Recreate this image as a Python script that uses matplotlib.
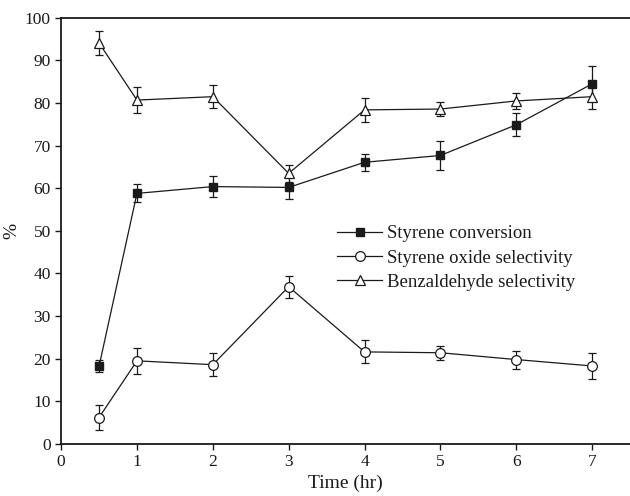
"""Styrene oxidation: conversion and product selectivity versus time."""

import matplotlib
matplotlib.use("Agg")
import matplotlib.pyplot as plt
from matplotlib.lines import Line2D

time_hr = [0.5, 1, 2, 3, 4, 5, 6, 7]

conversion = [18.2, 58.8, 60.4, 60.2, 66.1, 67.7, 74.9, 84.5]
conversion_err = [1.4, 2.1, 2.4, 2.7, 2.0, 3.4, 2.7, 4.1]

oxide_sel = [6.2, 19.5, 18.6, 36.9, 21.6, 21.4, 19.8, 18.3]
oxide_err = [2.9, 3.1, 2.7, 2.6, 2.7, 1.6, 2.1, 3.1]

benzaldehyde_sel = [94.1, 80.7, 81.5, 63.5, 78.4, 78.6, 80.5, 81.5]
benzaldehyde_err = [2.9, 3.1, 2.7, 2.0, 2.8, 1.6, 1.9, 2.8]

labels = ["Styrene conversion", "Styrene oxide selectivity",
          "Benzaldehyde selectivity"]

x_ticks = [0, 1, 2, 3, 4, 5, 6, 7]
y_ticks = [0, 10, 20, 30, 40, 50, 60, 70, 80, 90, 100]

plt.rcParams["font.family"] = ["Liberation Serif", "DejaVu Serif"]
plt.rcParams["font.size"] = 12

ink = "#1a1a1a"

fig = plt.figure(figsize=(6.3, 4.96), dpi=100)
ax = fig.add_axes([0.097, 0.105, 0.903, 0.859])

common = dict(color=ink, lw=0.9, capsize=2.6, elinewidth=0.9, capthick=0.9)
styles = [
    dict(marker="s", ms=5.5, mfc=ink, mec=ink),
    dict(marker="o", ms=7, mfc="white", mec=ink, mew=0.9),
    dict(marker="^", ms=7.5, mfc="white", mec=ink, mew=0.9),
]

series = [(conversion, conversion_err), (oxide_sel, oxide_err),
          (benzaldehyde_sel, benzaldehyde_err)]
for (vals, errs), style in zip(series, styles):
    ax.errorbar(time_hr, vals, yerr=errs, **style, **common)

ax.set_xlim(0, 7.5)
ax.set_ylim(0, 100)
ax.set_xticks(x_ticks)
ax.set_yticks(y_ticks)
ax.tick_params(direction="out", length=4, width=1.0, colors=ink,
               labelsize=12.5)
ax.spines["right"].set_visible(False)
for side in ("left", "bottom", "top"):
    ax.spines[side].set_linewidth(1.3)
    ax.spines[side].set_color(ink)

ax.set_xlabel("Time (hr)", fontsize=14, color=ink, labelpad=3)
ax.set_ylabel("%", fontsize=14, color=ink, labelpad=3)

# legend without error bars
handles = [Line2D([], [], color=ink, lw=0.9, **s) for s in styles]
leg = ax.legend(handles, labels, loc="upper left",
                bbox_to_anchor=(0.485, 0.513), frameon=False, fontsize=13.5,
                handlelength=2.4, handletextpad=0.27, labelspacing=0.38,
                borderaxespad=0, borderpad=0)
for text in leg.get_texts():
    text.set_color(ink)

fig.savefig("out.png", dpi=100)
